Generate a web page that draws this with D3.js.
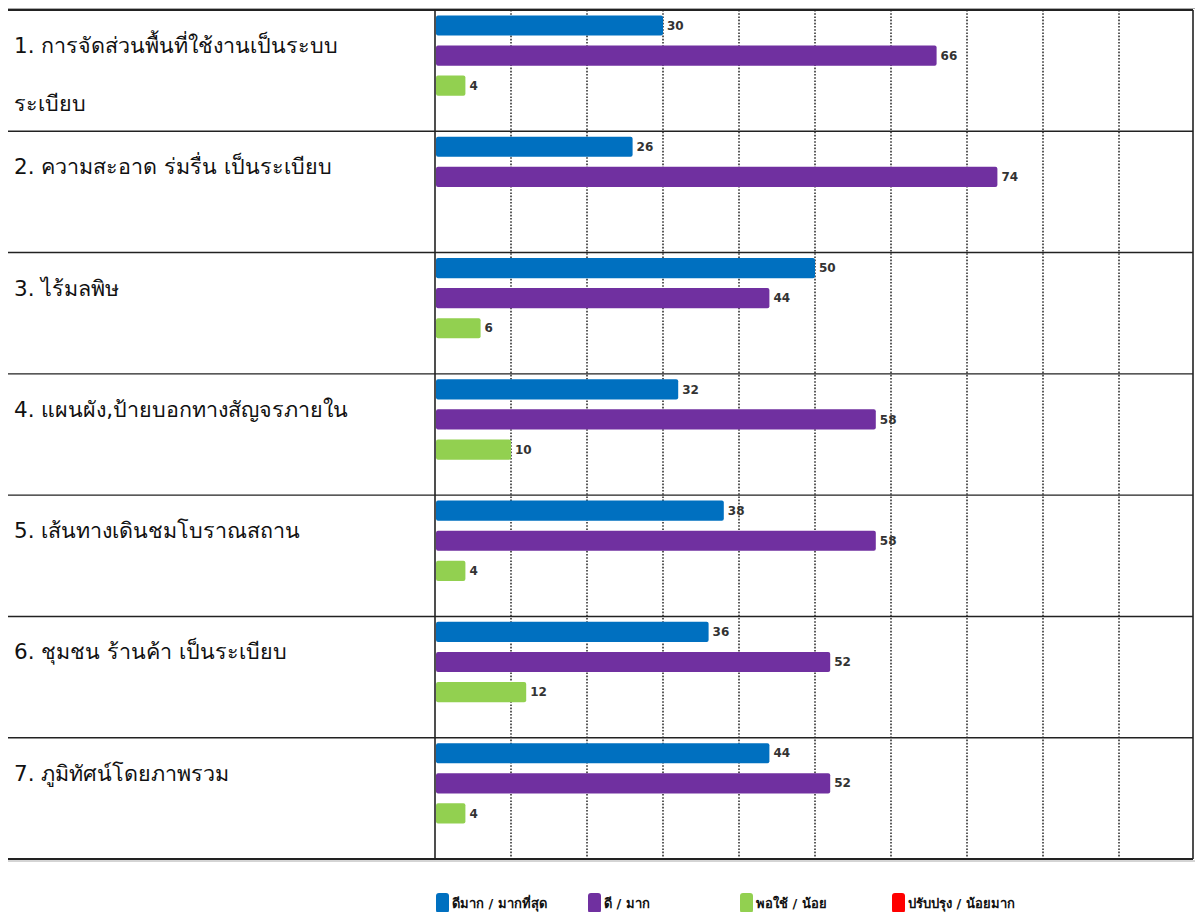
<!DOCTYPE html>
<html><head><meta charset="utf-8">
<script src="https://cdn.jsdelivr.net/npm/d3@7"></script>
<style>body{margin:0;background:#fff}svg{display:block}</style>
</head><body>
<script>
const categories = [
  ["1. การจัดส่วนพื้นที่ใช้งานเป็นระบบ", "ระเบียบ"],
  ["2. ความสะอาด ร่มรื่น เป็นระเบียบ"],
  ["3. ไร้มลพิษ"],
  ["4. แผนผัง,ป้ายบอกทางสัญจรภายใน"],
  ["5. เส้นทางเดินชมโบราณสถาน"],
  ["6. ชุมชน ร้านค้า เป็นระเบียบ"],
  ["7. ภูมิทัศน์โดยภาพรวม"]
];
const seriesNames = ["ดีมาก / มากที่สุด", "ดี / มาก", "พอใช้ / น้อย", "ปรับปรุง / น้อยมาก"];
const veryGood = [30, 26, 50, 32, 38, 36, 44];
const good = [66, 74, 44, 58, 58, 52, 52];
const fair = [4, 0, 6, 10, 4, 12, 4];
const improve = [0, 0, 0, 0, 0, 0, 0];
const seriesColors = ["#0070C0", "#7030A0", "#92D050", "#FF0000"];
const gridTicks = [10, 20, 30, 40, 50, 60, 70, 80, 90];

const seriesValues = [veryGood, good, fair, improve];
const W = 1200, H = 912;
const tableLeft = 8, plotLeft = 435, plotRight = 1193, tableTop = 10, tableBottom = 859;
const font = "Tahoma, 'DejaVu Sans', 'Noto Sans', sans-serif";

const svg = d3.select("body").append("svg").attr("width", W).attr("height", H);

const x = d3.scaleLinear().domain([0, 100]).range([plotLeft, plotLeft + 760]);
const y = d3.scaleBand().domain(d3.range(categories.length)).range([tableTop, tableBottom]);
const inner = d3.scaleBand().domain(d3.range(4)).range([0, y.bandwidth()]).paddingInner(0.33).paddingOuter(0.18);

// gridlines
svg.append("g").selectAll("line").data(gridTicks).join("line")
  .attr("x1", d => x(d)).attr("x2", d => x(d))
  .attr("y1", tableTop).attr("y2", tableBottom)
  .attr("stroke", "#333").attr("stroke-width", 1.6).attr("stroke-dasharray", "1.6,1.6");

// row separators
svg.append("g").selectAll("line").data(d3.range(categories.length + 1)).join("line")
  .attr("x1", tableLeft).attr("x2", plotRight)
  .attr("y1", i => i === categories.length ? tableBottom : y(i))
  .attr("y2", i => i === categories.length ? tableBottom : y(i))
  .attr("stroke", "#222").attr("stroke-width", i => (i === 0 || i === categories.length) ? 2 : 1.4);

// top/bottom shadow lines
[tableTop - 1.5, tableBottom + 2].forEach(yy => svg.append("line").attr("x1", tableLeft).attr("x2", plotRight + 2)
  .attr("y1", yy).attr("y2", yy).attr("stroke", "#aaa").attr("stroke-width", 1));

// vertical axis line and right border
svg.append("line").attr("x1", plotLeft).attr("x2", plotLeft).attr("y1", tableTop).attr("y2", tableBottom)
  .attr("stroke", "#222").attr("stroke-width", 1.6);
svg.append("line").attr("x1", plotRight).attr("x2", plotRight).attr("y1", tableTop).attr("y2", tableBottom)
  .attr("stroke", "#222").attr("stroke-width", 1.6);

// category labels
const lab = svg.append("g").selectAll("text").data(categories).join("text")
  .attr("x", 14).attr("y", (d, i) => y(i) + 43)
  .attr("font-family", font).attr("font-size", 21.5).attr("fill", "#111");
lab.selectAll("tspan").data(d => d).join("tspan")
  .attr("x", 14).attr("dy", (d, j) => j === 0 ? 0 : 58).text(d => d);

// bars
const rows = svg.append("g").selectAll("g").data(categories).join("g")
  .attr("transform", (d, i) => `translate(0,${y(i)})`);
rows.each(function(d, i) {
  const g = d3.select(this);
  seriesValues.forEach((vals, s) => {
    const v = vals[i];
    if (v <= 0) return;
    g.append("rect").attr("x", x(0) + 1).attr("y", inner(s))
      .attr("width", x(v) - x(0) - 1).attr("height", inner.bandwidth())
      .attr("rx", 2).attr("fill", seriesColors[s]);
    g.append("text").attr("x", x(v) + 4).attr("y", inner(s) + inner.bandwidth() / 2)
      .attr("dy", "0.35em").attr("font-family", font).attr("font-size", 12)
      .attr("font-weight", "bold").attr("fill", "#333").text(v);
  });
});

// legend
const lg = svg.append("g").selectAll("g").data(seriesNames).join("g")
  .attr("transform", (d, i) => `translate(${436 + i * 152},893)`);
lg.append("rect").attr("width", 13).attr("height", 20).attr("rx", 3)
  .attr("fill", (d, i) => seriesColors[i]);
lg.append("text").attr("x", 16).attr("y", 10).attr("dy", "0.4em")
  .attr("font-family", font).attr("font-size", 13).attr("font-weight", "bold").attr("fill", "#111").text(d => d);
</script>
</body></html>
